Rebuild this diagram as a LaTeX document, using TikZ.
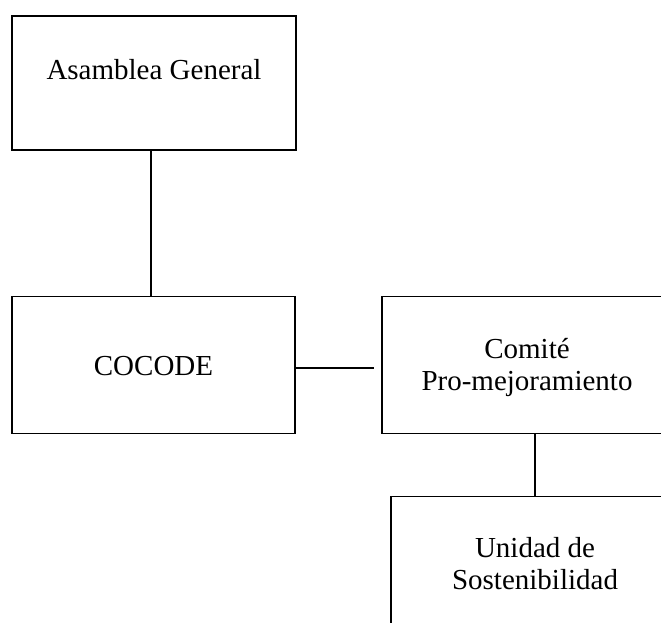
\documentclass[tikz,border=0pt]{standalone}
\usepackage{fontspec}
\setmainfont{Liberation Serif}
\begin{document}
\begin{tikzpicture}[x=1pt, y=-1pt, line width=1.3pt,
  caja/.style={draw, rectangle, inner sep=0pt, minimum height=137pt},
  texto/.style={font=\fontsize{29}{32}\selectfont, align=center, inner sep=0pt}]
\useasboundingbox (0,0) rectangle (661,622);
\clip (0,0) rectangle (661,622);
%Cajas
\node [caja, minimum width=284pt, minimum height=134pt] (asamblea) at (154,83) {};
\node [caja, minimum width=283pt] (cocode) at (153.5,365) {};
\node [caja, minimum width=290pt] (comite) at (527,365) {};
\node [caja, minimum width=288pt] (unidad) at (535,565) {};
%Texto
\node [texto] (tasamblea) at (154,70) {Asamblea General};
\node [texto] (tcocode) at (153.5,366) {COCODE};
\node [texto] (tcomite) at (527,367) {Comité\\Pro-mejoramiento};
\node [texto] (tunidad) at (535,564) {Unidad de\\Sostenibilidad};
%Lineas
\coordinate (fin) at (374,368);
\draw ([xshift=-3pt]asamblea.south) -- ([xshift=-3pt]asamblea.south |- cocode.north);
\draw ([yshift=-3pt]cocode.east) -- (fin);
\draw (comite.south -| unidad.north) -- (unidad.north);
\end{tikzpicture}
\end{document}
